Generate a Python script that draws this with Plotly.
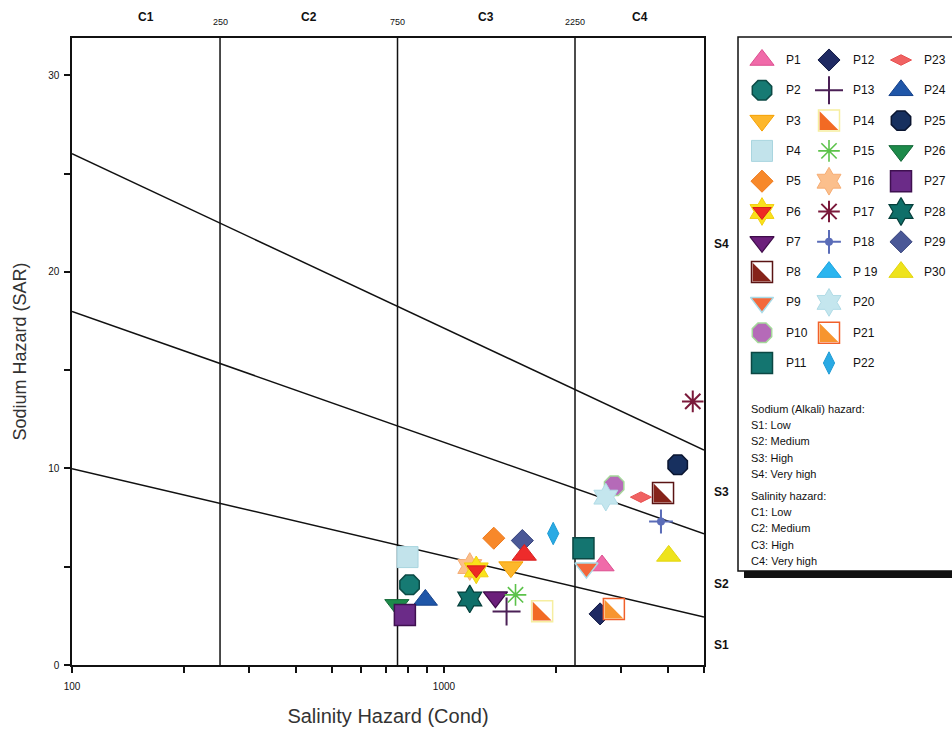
import math
import plotly.graph_objects as go

# ---- sample data: electrical conductivity (uS/cm) and sodium adsorption ratio ----
SAMPLES = ["P1", "P2", "P3", "P4", "P5", "P6", "P7", "P8", "P9", "P10",
           "P11", "P12", "P13", "P14", "P15", "P16", "P17", "P18", "P 19", "P20",
           "P21", "P22", "P23", "P24", "P25", "P26", "P27", "P28", "P29", "P30"]
EC = [2660, 808, 1513, 798, 1361, 1221, 1375, 3880, 2415, 2867,
      2371, 2628, 1473, 1836, 1557, 1173, 4664, 3831, 1644, 2723,
      2862, 1966, 3384, 891, 4249, 747, 785, 1173, 1624, 4018]
SAR = [5.06, 4.08, 4.98, 5.49, 6.45, 4.84, 3.45, 8.75, 4.93, 9.12,
       5.94, 2.60, 2.72, 2.74, 3.57, 5.01, 13.41, 7.30, 5.60, 8.54,
       2.85, 6.69, 8.54, 3.31, 10.19, 3.06, 2.55, 3.36, 6.33, 5.55]

# ---- USSL classification ----
EC_MIN, EC_MAX = 100, 5000
C_BOUNDS = [250, 750, 2250]
C_CLASSES = ["C1", "C2", "C3", "C4"]
S_INTERCEPT = [18.87, 31.31, 43.75]   # SAR = a - b * log10(EC)
S_SLOPE = [4.44, 6.66, 8.87]
S_CLASSES = ["S1", "S2", "S3", "S4"]
S_LABEL_SAR = [1.0, 4.1, 8.8, 21.4]

X_TICKS = [100, 200, 300, 400, 500, 600, 700, 800, 900, 1000, 2000, 3000, 4000, 5000]
X_TICK_LABELS = ["100", "", "", "", "", "", "", "", "", "1000", "", "", "", ""]
Y_TICKS = [0, 5, 10, 15, 20, 25, 30]
Y_TICK_LABELS = ["0", "", "10", "", "20", "", "30"]

NOTES_SODIUM = ["Sodium (Alkali) hazard:", "S1: Low", "S2: Medium", "S3: High", "S4: Very high"]
NOTES_SALINITY = ["Salinity hazard:", "C1: Low", "C2: Medium", "C3: High", "C4: Very high"]


def m(symbol, size, color, lc=None, lw=0.0):
    return dict(symbol=symbol, size=size, color=color,
                line=dict(color=lc or color, width=lw))


# marker layers per sample (drawn bottom to top)
STYLE = {
    "P1": [m("triangle-up", 21, "#f06aa9", "#dc4f8f", 1)],
    "P2": [m("octagon", 21, "#167a73", "#0c4a45", 1.5)],
    "P3": [m("triangle-down", 21, "#fdb72b", "#f5a000", 1)],
    "P4": [m("square", 21, "#c2e3eb", "#a9d5df", 1)],
    "P5": [m("diamond", 17, "#f7882a", "#ee7a1c", 1)],
    "P6": [m("hexagram", 21, "#f9e21b", "#f2cf10", 1), m("triangle-down", 16, "#ee2b24", "#d81f18", 1)],
    "P7": [m("triangle-down", 21, "#6c1f7b", "#3f0c4a", 1.2)],
    "P8": [m("square", 21, "#ffffff", "#5a1414", 1.5)],
    "P9": [m("triangle-down", 20, "#f4683a", "#a8dbe8", 1.5)],
    "P10": [m("octagon", 21, "#b56ab8", "#a4d89a", 1.5)],
    "P11": [m("square", 21, "#147570", "#0b4743", 1.5)],
    "P12": [m("diamond", 17, "#1f2a63", "#121a44", 1)],
    "P13": [m("cross-thin-open", 20, "#4b2056", "#4b2056", 2)],
    "P14": [m("square", 21, "#ffffff", "#f6eea0", 1.5)],
    "P15": [m("asterisk-open", 18, "#5cc24a", "#5cc24a", 1.6)],
    "P16": [m("hexagram", 21, "#fbbf8c", "#f6ad74", 1)],
    "P17": [m("asterisk-open", 18, "#7b1a3b", "#7b1a3b", 2)],
    "P18": [m("cross-thin-open", 17, "#5a6cb8", "#5a6cb8", 2), m("circle", 8, "#5a6cb8", "#5a6cb8", 0)],
    "P 19": [m("triangle-up", 21, "#ee2b2b", "#d81f1f", 1)],
    "P20": [m("hexagram", 21, "#c4e6ee", "#b0dbe6", 1)],
    "P21": [m("square", 21, "#ffffff", "#f1602a", 1.5)],
    "P22": [m("diamond-tall", 16, "#2aaae4", "#1f9bd4", 1)],
    "P23": [m("diamond-wide", 15, "#f06262", "#e85050", 1)],
    "P24": [m("triangle-up", 21, "#1f56a8", "#16428a", 1)],
    "P25": [m("octagon", 21, "#17305f", "#0a1530", 1.5)],
    "P26": [m("triangle-down", 21, "#1d8a4a", "#136838", 1)],
    "P27": [m("square", 21, "#6b2b88", "#3f1050", 1.5)],
    "P28": [m("hexagram", 21, "#0f6f69", "#06403c", 1.2)],
    "P29": [m("diamond", 17, "#4a5897", "#33407a", 1)],
    "P30": [m("triangle-up", 21, "#eee31c", "#e3d510", 1)],
}
# legend swatch differs for P 19
LEGEND_STYLE = dict(STYLE)
LEGEND_STYLE["P 19"] = [m("triangle-up", 21, "#2bb5ef", "#1fa5e0", 1)]
# lower-left half fill of split squares
HALF_FILL = {"P8": "#86231a", "P14": "#f26a24", "P21": "#f7952f"}
# samples that sit underneath their neighbours
DRAW_FIRST = ["P16", "P29"]

# ---- page geometry ----
W, H = 952, 729
ML, MR, MT, MB = 72, 0, 35, 64
PLOT_RIGHT, PLOT_TOP = 704, 38
PW, PH = W - ML - MR, H - MT - MB


def paper_x(px):
    return (px - ML) / PW


def paper_y(py):
    return (H - MB - py) / PH


FONT = "Liberation Sans Narrow, Arial Narrow, Liberation Sans, Arial, sans-serif"
TITLE_FONT = "Liberation Sans, Arial, sans-serif"

fig = go.Figure()

# salinity class boundaries
for b in C_BOUNDS:
    fig.add_trace(go.Scatter(x=[b, b], y=[0, 31.9], mode="lines",
                             line=dict(color="#111111", width=1.5),
                             showlegend=False, hoverinfo="skip"))

# sodium class boundaries
for a, s in zip(S_INTERCEPT, S_SLOPE):
    xs = [EC_MIN, EC_MAX]
    ys = [a - s * math.log10(v) for v in xs]
    fig.add_trace(go.Scatter(x=xs, y=ys, mode="lines",
                             line=dict(color="#111111", width=1.5),
                             showlegend=False, hoverinfo="skip"))

shapes = []


def half_square(xref, yref, xa, ya, fill, h=9.4):
    return dict(type="path", xref=xref, yref=yref,
                xsizemode="pixel", ysizemode="pixel",
                xanchor=xa, yanchor=ya,
                path=f"M{-h},{-h} L{h},{-h} L{-h},{h} Z",
                fillcolor=fill, line=dict(width=0), layer="above")


# sample points
order = [SAMPLES.index(n) for n in DRAW_FIRST] + \
        [i for i, n in enumerate(SAMPLES) if n not in DRAW_FIRST]
for i in order:
    name = SAMPLES[i]
    for layer in STYLE[name]:
        fig.add_trace(go.Scatter(x=[EC[i]], y=[SAR[i]], mode="markers", name=name,
                                 marker=layer, showlegend=False,
                                 hovertemplate=f"{name}<br>EC %{{x}}<br>SAR %{{y}}<extra></extra>"))
    if name in HALF_FILL:
        shapes.append(half_square("x", "y", EC[i], SAR[i], HALF_FILL[name]))

# ---- key panel (pixel-based axis x2/y2) ----
KEY_X0, KEY_X1, KEY_Y0, KEY_Y1 = 737, 952, 35, 580
COL_MARK = [762, 829, 901]
COL_TEXT = [784, 851, 922]
ROW0, ROW_STEP, ROWS_PER_COL = 60, 30.3, 11

annotations = []
for i, name in enumerate(SAMPLES):
    c, r = divmod(i, ROWS_PER_COL)
    ky = ROW0 + r * ROW_STEP
    for layer in LEGEND_STYLE[name]:
        fig.add_trace(go.Scatter(x=[COL_MARK[c]], y=[ky], mode="markers", marker=layer,
                                 xaxis="x2", yaxis="y2", showlegend=False, hoverinfo="skip"))
    if name in HALF_FILL:
        shapes.append(half_square("x2", "y2", COL_MARK[c], ky, HALF_FILL[name]))
    annotations.append(dict(xref="x2", yref="y2", x=COL_TEXT[c], y=ky, text=name,
                            showarrow=False, xanchor="left", yanchor="middle",
                            font=dict(family=FONT, size=12, color="#111111")))

for block, y0 in ((NOTES_SODIUM, 409), (NOTES_SALINITY, 496)):
    for j, line in enumerate(block):
        annotations.append(dict(xref="x2", yref="y2", x=749, y=y0 + j * 16.2, text=line,
                                showarrow=False, xanchor="left", yanchor="middle",
                                font=dict(family=FONT, size=11, color="#111111")))

# key frame with drop shadow
shapes.append(dict(type="rect", xref="x2", yref="y2", x0=744, x1=1000, y0=571, y1=578,
                   fillcolor="#111111", line=dict(width=0), layer="below"))
shapes.append(dict(type="rect", xref="x2", yref="y2", x0=738, x1=1000, y0=37, y1=571,
                   fillcolor="#ffffff", line=dict(color="#111111", width=1.5), layer="below"))

# class labels along the top
edges = [EC_MIN] + C_BOUNDS + [EC_MAX]
for k, lab in enumerate(C_CLASSES):
    mid = math.sqrt(edges[k] * edges[k + 1])
    annotations.append(dict(xref="x", yref="paper", x=math.log10(mid), y=paper_y(17),
                            text=f"<b>{lab}</b>", showarrow=False, yanchor="middle",
                            font=dict(family=FONT, size=12, color="#111111")))
for b in C_BOUNDS:
    annotations.append(dict(xref="x", yref="paper", x=math.log10(b), y=paper_y(22),
                            text=str(b), showarrow=False, yanchor="middle",
                            font=dict(family=FONT, size=9, color="#111111")))
# class labels down the right side
for lab, yv in zip(S_CLASSES, S_LABEL_SAR):
    annotations.append(dict(xref="paper", yref="y", x=paper_x(712), y=yv,
                            text=f"<b>{lab}</b>", showarrow=False, xanchor="left",
                            yanchor="middle",
                            font=dict(family=FONT, size=12, color="#111111")))

fig.update_layout(
    template="none",
    width=W, height=H,
    margin=dict(l=ML, r=MR, t=MT, b=MB, pad=0),
    paper_bgcolor="#ffffff", plot_bgcolor="#ffffff",
    showlegend=False,
    xaxis=dict(type="log", range=[math.log10(EC_MIN), math.log10(EC_MAX)],
               domain=[0, paper_x(PLOT_RIGHT)],
               tickmode="array", tickvals=X_TICKS, ticktext=X_TICK_LABELS,
               ticks="outside", ticklen=6, tickwidth=1.5, tickcolor="#111111",
               ticklabelstandoff=5,
               showline=True, linecolor="#111111", linewidth=1.5, mirror=True,
               showgrid=False, zeroline=False,
               tickfont=dict(family=FONT, size=10, color="#111111"),
               title=dict(text="Salinity Hazard (Cond)", standoff=18,
                          font=dict(family=TITLE_FONT, size=20, color="#333333"))),
    yaxis=dict(range=[0, 31.9], domain=[0, paper_y(PLOT_TOP)],
               tickmode="array", tickvals=Y_TICKS, ticktext=Y_TICK_LABELS,
               ticks="outside", ticklen=6, tickwidth=1.5, tickcolor="#111111",
               ticklabelstandoff=3,
               showline=True, linecolor="#111111", linewidth=1.5, mirror=True,
               showgrid=False, zeroline=False,
               tickfont=dict(family=FONT, size=10, color="#111111"),
               title=dict(text="Sodium Hazard (SAR)", standoff=17,
                          font=dict(family=TITLE_FONT, size=18, color="#333333"))),
    xaxis2=dict(domain=[paper_x(KEY_X0), paper_x(KEY_X1)], range=[KEY_X0, KEY_X1],
                visible=False, fixedrange=True, anchor="y2"),
    yaxis2=dict(domain=[paper_y(KEY_Y1), paper_y(KEY_Y0)], range=[KEY_Y1, KEY_Y0],
                visible=False, fixedrange=True, anchor="x2"),
    shapes=shapes,
    annotations=annotations,
)

fig.write_html("out.html")
